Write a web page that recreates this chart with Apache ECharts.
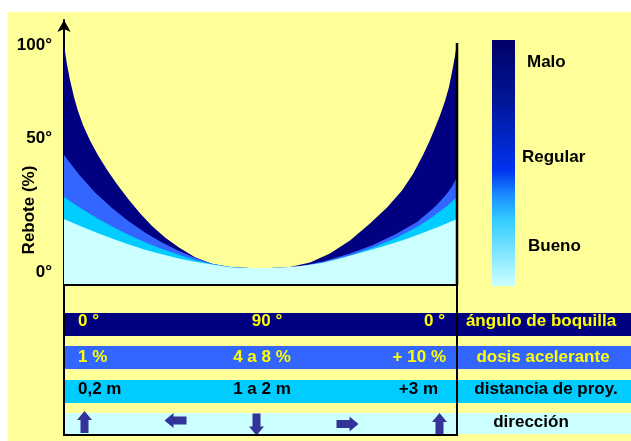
<!DOCTYPE html>
<html>
<head>
<meta charset="utf-8">
<script src="https://cdn.jsdelivr.net/npm/echarts@6/dist/echarts.min.js"></script>
<style>html,body{margin:0;padding:0;background:#fff}#c{width:631px;height:441px}</style>
</head>
<body>
<div id="c"></div>
<script>
// ---- data (x: position 0-100 across the plot, y: rebote %) ----
const navyX = [0,0.76,1.53,2.54,3.56,4.83,6.62,8.65,10.94,13.49,16.54,19.34,22.39,25.7,29.26,33.33,37.66,41.98,47.33,52.42,57.51,62.6,67.68,72.77,77.86,82.19,86.01,88.8,91.35,93.13,94.4,95.67,96.95,97.96,98.73,99.49,100];
const navyY = [100,91.2,84.3,76.7,70.4,64.1,57.2,50.6,44.1,37.6,30.5,24.6,18.9,13.7,9.2,4.8,1.9,0.5,0.05,0,0.45,2.47,6.5,12.33,19.95,27.12,34.74,42.14,50.66,57.38,62.76,68.37,74.87,81.14,87.87,95.04,100.87];
const blueX = [0,1.53,3.82,7.89,12.21,16.54,20.61,24.94,29.26,33.33,37.66,42.75,47.33,49.87,52.42,56.23,60.05,65.9,72.77,78.63,84.73,89.82,93.89,95.67,97.46,98.73,100];
const blueY = [50.66,47.07,41.92,33.85,26.9,20.85,15.92,11.43,7.62,4.57,1.88,0.36,0.04,0,0,0.18,0.76,2.91,6.5,10.31,15.47,20.62,26.67,29.81,33.4,36.54,40.8];
const cyanX = [0,3.82,7.89,12.21,16.54,20.61,24.94,29.26,33.33,37.66,42.75,47.33,49.87,52.42,56.23,60.05,65.9,72.77,78.63,84.73,89.82,93.89,97.46,100];
const cyanY = [31.83,27.35,22.86,18.6,14.79,11.57,8.52,5.92,3.59,1.79,0.31,0.04,0,0,0.13,0.67,2.47,5.6,9.19,13.67,18.38,23.09,27.8,31.83];
const lightX = [0,3.82,7.89,12.21,16.54,20.61,24.94,29.26,33.33,37.66,42.75,47.33,51.15,52.42,57.51,61.83,65.9,70.23,74.55,78.63,82.95,87.28,91.35,95.67,100];
const lightY = [21.97,19.05,16.14,13.23,10.54,8.25,6.14,4.3,2.87,1.61,0.27,0.04,0,0,0.45,1.26,2.33,4.26,6.46,8.38,10.67,13.18,15.78,18.74,21.97];
const yTickValues = [-2, 58, 100];
const yTickLabels = ['0°', '50°', '100°'];
const yAxisName = 'Rebote (%)';
const legendLabels = ['Malo', 'Regular', 'Bueno'];
const rowLabels = ['ángulo de boquilla', 'dosis acelerante', 'distancia de proy.', 'dirección'];
const rowCells = [['0 °', '90 °', '0 °'], ['1 %', '4 a 8 %', '+ 10 %'], ['0,2 m', '1 a 2 m', '+3 m']];
const directions = ['up', 'left', 'down', 'right', 'up'];

// ---- styles / layout ----
const FONT = '"Liberation Sans", Arial, sans-serif';
const YELLOW_BG = '#FFFF99';
const areaColors = ['#000080', '#3366FF', '#00CCFF', '#CCFFFF'];
const rowColors = ['#000080', '#3366FF', '#00CCFF', '#CCFFFF'];
const rowTextColors = ['#FFFF00', '#FFFF00', '#000000', '#000000'];
const rowTop = [313, 346, 380, 413];
const rowH = [23, 23, 23, 21];
const rowTextY = [321, 357, 389, 422];
const cellLeftX = 78;
const cellMidX = [267, 262, 262];
const cellRightX = [445, 446, 438];
const labelMidX = [541, 543, 546, 531];
const arrowCenters = [[84.5, 422], [175.5, 420.5], [256.5, 424.5], [347.5, 424], [439.5, 424]];
const legendTextPos = [[527, 62], [522, 157], [528, 246]];

function zip(xs, ys) { return xs.map((x, i) => [x, ys[i]]); }

function arrowPoints(cx, cy, dir) {
  const L = 22, hw = 15, sw = 8, hl = 9;
  const base = [[0, -L/2], [hw/2, -L/2 + hl], [sw/2, -L/2 + hl], [sw/2, L/2], [-sw/2, L/2], [-sw/2, -L/2 + hl], [-hw/2, -L/2 + hl]];
  return base.map(([x, y]) => {
    let px, py;
    if (dir === 'up') { px = x; py = y; }
    else if (dir === 'down') { px = x; py = -y; }
    else if (dir === 'left') { px = y; py = x; }
    else { px = -y; py = x; }
    return [cx + px, cy + py];
  });
}

const graphic = [];
graphic.push({ type: 'rect', z: -10, shape: { x: 8, y: 12, width: 623, height: 429 }, style: { fill: YELLOW_BG } });
graphic.push({ type: 'text', x: 29, y: 210, rotation: Math.PI / 2, style: { text: yAxisName, font: 'bold 17px ' + FONT, fill: '#000', align: 'center', verticalAlign: 'middle' } });
graphic.push({ type: 'rect', shape: { x: 492, y: 40, width: 23, height: 246 }, style: { fill: new echarts.graphic.LinearGradient(0, 0, 0, 1, [
  { offset: 0, color: '#000066' }, { offset: 0.25, color: '#001699' }, { offset: 0.53, color: '#0033EE' },
  { offset: 0.63, color: '#1a8cff' }, { offset: 0.73, color: '#33CCFF' }, { offset: 1, color: '#CCFFFF' }]) } });
legendLabels.forEach((t, i) => graphic.push({ type: 'text', x: legendTextPos[i][0], y: legendTextPos[i][1], style: { text: t, font: 'bold 17px ' + FONT, fill: '#000', align: 'left', verticalAlign: 'middle' } }));
rowLabels.forEach((lab, i) => {
  graphic.push({ type: 'rect', shape: { x: 63, y: rowTop[i], width: 568, height: rowH[i] }, style: { fill: rowColors[i] } });
  graphic.push({ type: 'text', x: labelMidX[i], y: rowTextY[i], z: 5, style: { text: lab, font: 'bold 17px ' + FONT, fill: rowTextColors[i], align: 'center', verticalAlign: 'middle' } });
});
rowCells.forEach((cells, i) => {
  const st = { font: 'bold 17px ' + FONT, fill: rowTextColors[i], verticalAlign: 'middle' };
  graphic.push({ type: 'text', x: cellLeftX, y: rowTextY[i], z: 5, style: Object.assign({ text: cells[0], align: 'left' }, st) });
  graphic.push({ type: 'text', x: cellMidX[i], y: rowTextY[i], z: 5, style: Object.assign({ text: cells[1], align: 'center' }, st) });
  graphic.push({ type: 'text', x: cellRightX[i], y: rowTextY[i], z: 5, style: Object.assign({ text: cells[2], align: 'right' }, st) });
});
directions.forEach((d, i) => graphic.push({ type: 'polygon', z: 5, shape: { points: arrowPoints(arrowCenters[i][0], arrowCenters[i][1], d) }, style: { fill: '#333399' } }));
graphic.push({ type: 'rect', z: 10, shape: { x: 64, y: 285, width: 393, height: 150 }, style: { fill: 'none', stroke: '#000', lineWidth: 2 } });
graphic.push({ type: 'line', z: 100, shape: { x1: 457, y1: 43, x2: 457, y2: 285 }, style: { stroke: '#000', lineWidth: 2.5 } });

const seriesDefs = [[navyX, navyY], [blueX, blueY], [cyanX, cyanY], [lightX, lightY]];
const chart = echarts.init(document.getElementById('c'), null, { renderer: 'canvas' });
chart.setOption({
  backgroundColor: '#FFFFFF',
  animation: false,
  textStyle: { fontFamily: FONT },
  grid: { left: 64, right: 174, top: 20, bottom: 156, containLabel: false, outerBoundsMode: 'none' },
  xAxis: { type: 'value', min: 0, max: 100, axisLine: { show: true, onZero: false, lineStyle: { color: '#000', width: 2 } }, axisTick: { show: false }, axisLabel: { show: false }, splitLine: { show: false } },
  yAxis: { type: 'value', min: -7.6, max: 111.2,
    axisLine: { show: true, onZero: false, symbol: ['none', 'arrow'], symbolSize: [10, 12], lineStyle: { color: '#000', width: 2 } },
    axisTick: { show: false }, splitLine: { show: false },
    axisLabel: { show: true, customValues: yTickValues, formatter: v => yTickLabels[yTickValues.indexOf(v)] || '', color: '#000', fontWeight: 'bold', fontSize: 17, fontFamily: FONT, margin: 12 } },
  series: seriesDefs.map((d, i) => ({
    type: 'line', data: zip(d[0], d[1]), smooth: false, showSymbol: false, symbol: 'none',
    lineStyle: { width: 0, color: areaColors[i] }, itemStyle: { color: areaColors[i] },
    areaStyle: { color: areaColors[i], opacity: 1, origin: 'start' }, z: 2 + i
  })),
  graphic: graphic
});
</script>
</body>
</html>
